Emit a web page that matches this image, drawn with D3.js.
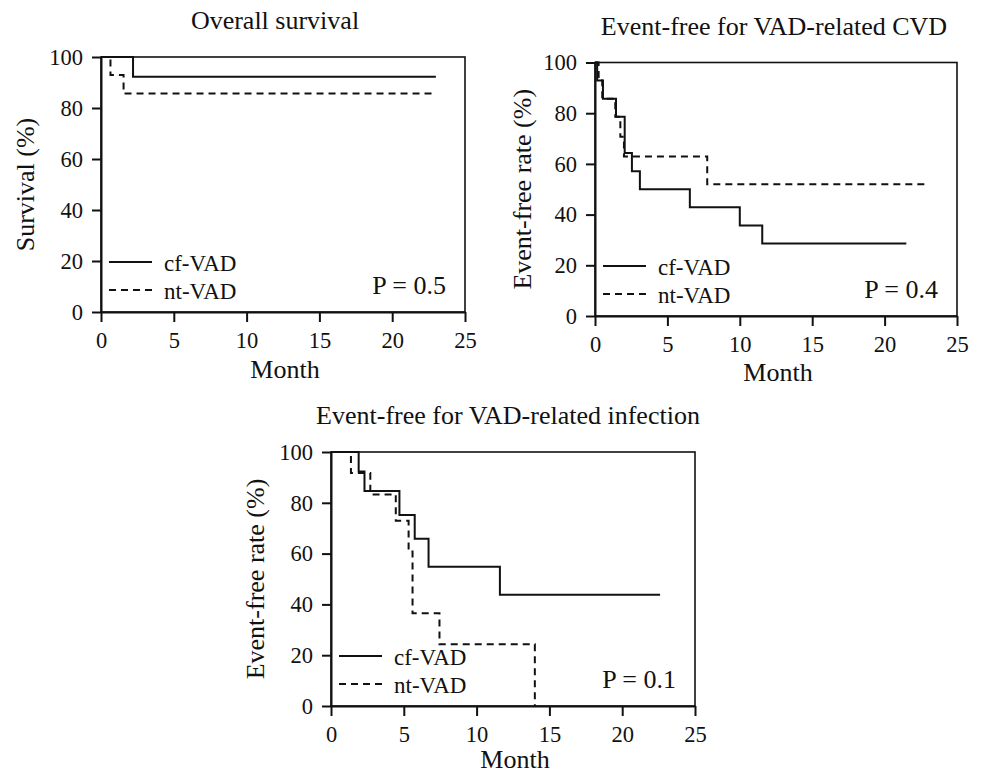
<!DOCTYPE html>
<html>
<head>
<meta charset="utf-8">
<script src="https://cdn.jsdelivr.net/npm/d3@7"></script>
<style>
  body { margin: 0; background: #fff; }
  text { font-family: "Liberation Serif", "Times New Roman", serif; fill: #111; }
</style>
</head>
<body>
<div id="chart"></div>
<script>
const monthTicks = [0, 5, 10, 15, 20, 25]
const rateTicks = [0, 20, 40, 60, 80, 100]
const seriesNames = ["cf-VAD", "nt-VAD"]
const titles = ["Overall survival", "Event-free for VAD-related CVD", "Event-free for VAD-related infection"]
const yLabels = ["Survival (%)", "Event-free rate (%)", "Event-free rate (%)"]
const pValues = ["P = 0.5", "P = 0.4", "P = 0.1"]

// overall survival
const osCfMonths = [0, 2.2, 23]
const osCfRates = [100, 92.3, 92.3]
const osNtMonths = [0, 0.65, 1.55, 23]
const osNtRates = [100, 92.9, 85.7, 85.7]

// event-free, VAD-related CVD
const cvdCfMonths = [0, 0.15, 0.55, 1.45, 2.05, 2.55, 3.1, 6.55, 10.0, 11.55, 21.5]
const cvdCfRates = [100, 92.9, 85.7, 78.6, 64.3, 57.1, 50.0, 42.9, 35.7, 28.6, 28.6]
const cvdNtMonths = [0, 0.25, 0.5, 1.4, 1.75, 2.0, 7.75, 23]
const cvdNtRates = [100, 92.9, 85.7, 78.6, 70.7, 62.9, 52.0, 52.0]

// event-free, VAD-related infection
const infCfMonths = [0, 1.9, 2.3, 4.7, 5.75, 6.7, 11.6, 22.6]
const infCfRates = [100, 92.3, 84.6, 75.2, 65.8, 54.8, 43.8, 43.8]
const infNtMonths = [0, 1.37, 2.7, 4.45, 5.33, 5.6, 7.45, 14.0]
const infNtRates = [100, 91.7, 83.3, 72.9, 60.8, 36.5, 24.3, 0]

const zip = (xs, ys) => xs.map((x, i) => ({ month: x, rate: ys[i] }))

// layout of each panel (pixel boxes)
const panels = [
    { left: 101, right: 465, top: 57, bottom: 312, titleX: 275, ylabX: 25, monthY: 378,
      cf: zip(osCfMonths, osCfRates), nt: zip(osNtMonths, osNtRates) },
    { left: 595, right: 957, top: 62.5, bottom: 316, titleX: 774, ylabX: 522, monthY: 381,
      cf: zip(cvdCfMonths, cvdCfRates), nt: zip(cvdNtMonths, cvdNtRates) },
    { left: 331, right: 695, top: 452, bottom: 706, titleX: 508, ylabX: 255, monthY: 768,
      cf: zip(infCfMonths, infCfRates), nt: zip(infNtMonths, infNtRates) }
]

const svg = d3.select("#chart")
    .append("svg")
    .attr("width", 982)
    .attr("height", 775)

const dash = "7,5"

panels.forEach((p, i) => {
    const x = d3.scaleLinear().domain([0, 25]).range([p.left, p.right])
    const y = d3.scaleLinear().domain([0, 100]).range([p.bottom, p.top])
    const g = svg.append("g")

    // frame
    g.append("rect")
        .attr("x", x(0)).attr("y", y(100))
        .attr("width", x(25) - x(0)).attr("height", y(0) - y(100))
        .attr("fill", "none").attr("stroke", "#111").attr("stroke-width", 1.6)

    const xAxis = g.append("g")
        .attr("transform", `translate(0,${p.bottom})`)
        .call(d3.axisBottom(x).tickValues(monthTicks).tickSize(10).tickPadding(10).tickSizeOuter(0))
    const yAxis = g.append("g")
        .attr("transform", `translate(${p.left},0)`)
        .call(d3.axisLeft(y).tickValues(rateTicks).tickSize(9).tickPadding(9).tickSizeOuter(0))

    ;[xAxis, yAxis].forEach(a => {
        a.selectAll("path, line").attr("stroke", "#111").attr("stroke-width", 2)
        a.selectAll("text").style("font-size", "22.5px").attr("fill", "#111")
            .style("font-family", '"Liberation Serif", serif')
    })

    const line = d3.line()
        .x(d => x(d.month))
        .y(d => y(d.rate))
        .curve(d3.curveStepAfter)

    g.append("path").datum(p.cf)
        .attr("d", line).attr("fill", "none")
        .attr("stroke", "#111").attr("stroke-width", 2)
    g.append("path").datum(p.nt)
        .attr("d", line).attr("fill", "none")
        .attr("stroke", "#111").attr("stroke-width", 2)
        .attr("stroke-dasharray", dash)

    // title and axis labels
    g.append("text")
        .attr("x", p.titleX).attr("y", p.top - 28)
        .attr("text-anchor", "middle")
        .style("font-size", "26px")
        .text(titles[i])
    g.append("text")
        .attr("x", (p.left + p.right) / 2 + 2).attr("y", p.monthY)
        .attr("text-anchor", "middle")
        .style("font-size", "26px")
        .text("Month")
    g.append("text")
        .attr("transform", `translate(${p.ylabX},${(p.top + p.bottom) / 2}) rotate(-90)`)
        .attr("text-anchor", "middle")
        .attr("dy", "0.35em")
        .style("font-size", "26px")
        .text(yLabels[i])

    // legend
    const legY = [p.bottom - 50, p.bottom - 22]
    seriesNames.forEach((name, k) => {
        g.append("line")
            .attr("x1", p.left + 8).attr("x2", p.left + 51)
            .attr("y1", legY[k]).attr("y2", legY[k])
            .attr("stroke", "#111").attr("stroke-width", 2)
            .attr("stroke-dasharray", k === 1 ? dash : null)
        g.append("text")
            .attr("x", p.left + 63).attr("y", legY[k] + 9)
            .style("font-size", "23px")
            .text(name)
    })

    g.append("text")
        .attr("x", p.right - 19).attr("y", p.bottom - 18)
        .attr("text-anchor", "end")
        .style("font-size", "26px")
        .text(pValues[i])
})
</script>
</body>
</html>
